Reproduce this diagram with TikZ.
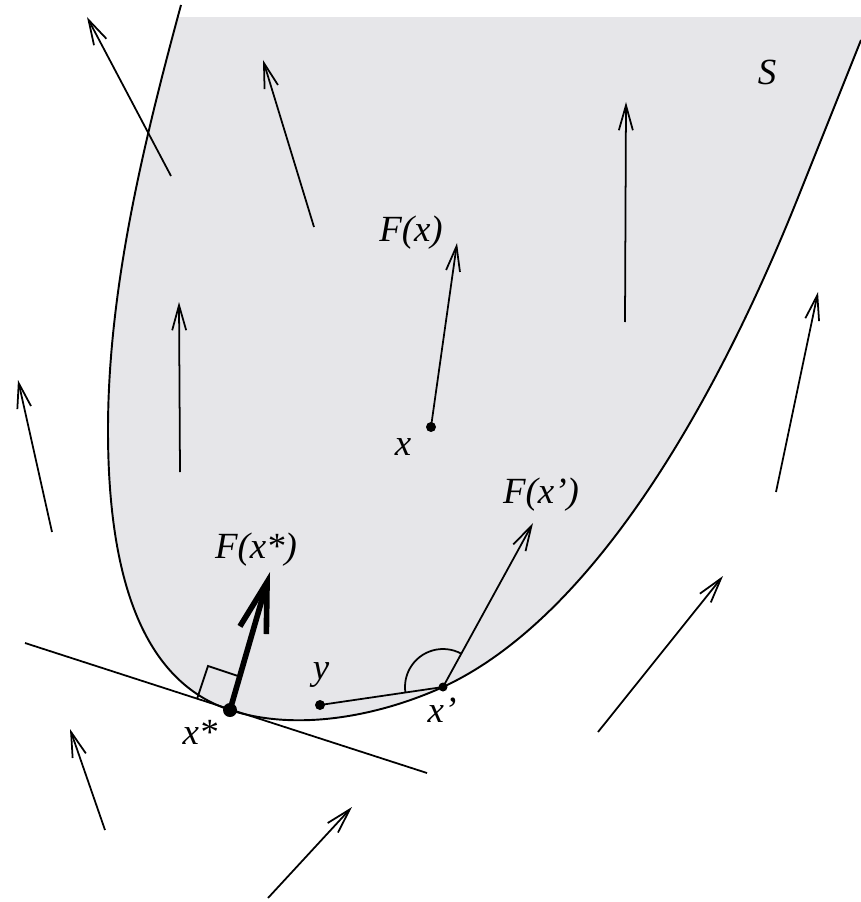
\documentclass[tikz,border=0pt]{standalone}
\usepackage{fontspec}
\setmainfont{Liberation Serif}
\usetikzlibrary{arrows.meta}
\definecolor{regiongray}{RGB}{230,230,233}

\begin{document}
\begin{tikzpicture}[
	x=0.02cm, y=-0.02cm,
	every node/.style={font=\itshape\fontsize{21}{25}\selectfont, inner sep=0pt},
	boundary/.style={line width=1.1pt},
	thinline/.style={line width=1pt},
	field/.style={line width=1pt, -{Straight Barb[length=5mm, width=2.8mm]}},
	bigfield/.style={line width=3.2pt, -{Straight Barb[length=10mm, width=5.5mm]}},
	dot/.style={circle, fill, minimum size=2mm},
	bigdot/.style={circle, fill, minimum size=2.8mm},
	]
	\useasboundingbox (0,0) rectangle (861,902);
	
	\begin{scope}
		\clip (0,18) rectangle (861,902);
		\fill[regiongray] (181,5) .. controls (143,145) and (108,290) .. (108,430)
			.. controls (108,600) and (154,685) .. (230,710)
			.. controls (297,732) and (379,716) .. (443,687)
			.. controls (607,611) and (730,367) .. (797,200)
			-- (861,40) -- (861,0) -- cycle;
	\end{scope}
	\draw[boundary] (181,5) .. controls (143,145) and (108,290) .. (108,430)
		.. controls (108,600) and (154,685) .. (230,710)
		.. controls (297,732) and (379,716) .. (443,687)
		.. controls (607,611) and (730,367) .. (797,200)
		-- (861,40);
	
	\coordinate (tanL) at (25,643);
	\coordinate (tanR) at (427,773);
	\draw[thinline] (tanL) -- (tanR);
	
	\foreach \xa/\ya/\xb/\yb [count=\i] in {171/176/87/17, 314/227/263/60, 625/322/626/102, 180/472/179/302, 52/532/18/380, 776/492/818/292, 598/732/723/576, 268/898/352/807, 105/830/70/729}{
		\coordinate (tail\i) at (\xa,\ya);
		\coordinate (head\i) at (\xb,\yb);
		\draw[field] (tail\i) -- (head\i);
	}
	
	\node[dot] (x) at (431,427) {};
	\node[dot] (y) at (320,705) {};
	\node[dot, minimum size=1.8mm] (xp) at (443,687) {};
	\node[bigdot] (xs) at (230,710) {};
	
	\coordinate (Fxtip) at (457,243);
	\coordinate (Fxptip) at (533,523);
	\coordinate (Fxstip) at (270,572);
	\draw[field] (x.center) -- (Fxtip);
	\draw[field] (xp.center) -- (Fxptip);
	\draw[bigfield] (xs.center) -- (Fxstip);
	\draw[thinline] (y.center) -- (xp.center);
	
	\draw[thinline] (xs.center) ++(-33,-11) -- ++(11,-33) -- ++(33,11);
	\draw[thinline] (xp.center) ++(61:0.76cm) arc[start angle=61, end angle=188, radius=0.76cm];
	
	\node (Slab) at (767,72) {S};
	\node (Fxlab) at (411,233) {F(x)};
	\node (xlab) at (403,447) {x};
	\node (Fxplab) at (541,495) {F(x')};
	\node (Fxslab) at (256,550) {F(x*)};
	\node (ylab) at (321,675) {y};
	\node (xslab) at (200,732) {x*};
	\node (xplab) at (442,710) {x'};
\end{tikzpicture}
\end{document}
